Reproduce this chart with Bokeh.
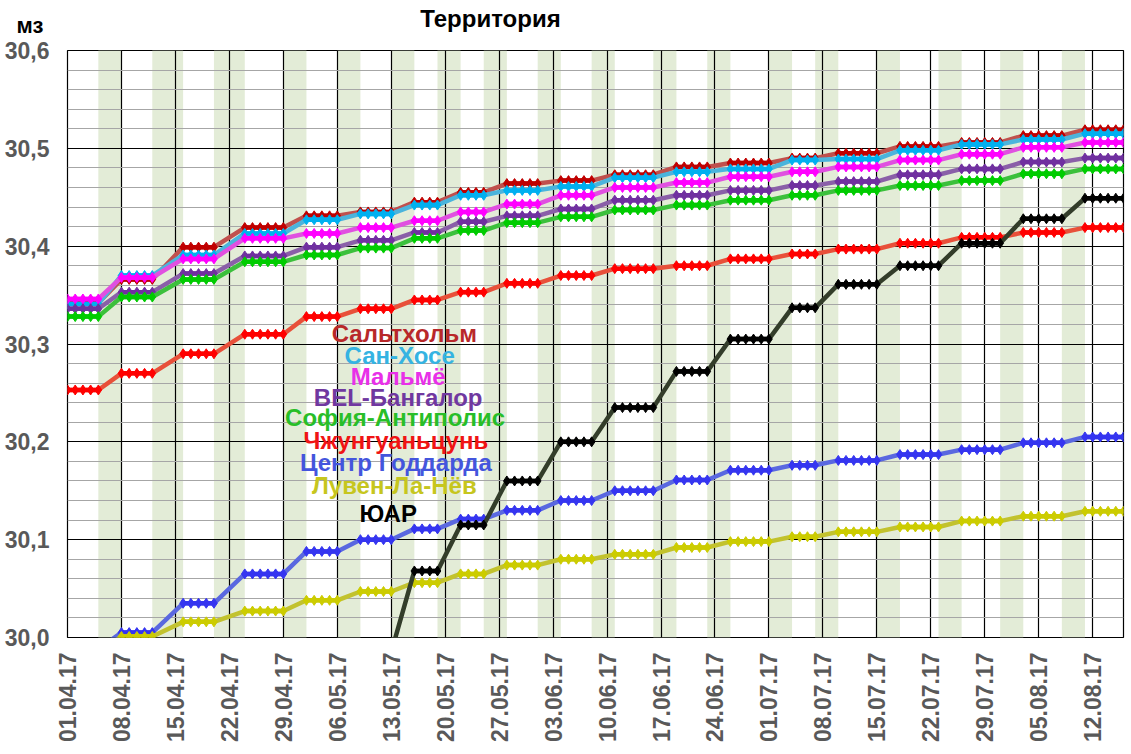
from bokeh.plotting import figure
from bokeh.layouts import column
from bokeh.models import Range1d, FixedTicker, CustomJSTickFormatter, Label
from bokeh.embed import file_html
from bokeh.resources import INLINE
from bokeh.core.properties import value
import math

NAN = float("nan")

# x axis: day index from 01.04.17 (0) to 16.08.17 (137)
X_END = 137
TICK_DAYS = [0, 7, 14, 21, 28, 35, 42, 49, 56, 63, 70, 77, 84, 91, 98, 105, 112, 119, 126, 133]
TICK_LABELS = ["01.04.17", "08.04.17", "15.04.17", "22.04.17", "29.04.17", "06.05.17",
               "13.05.17", "20.05.17", "27.05.17", "03.06.17", "10.06.17", "17.06.17",
               "24.06.17", "01.07.17", "08.07.17", "15.07.17", "22.07.17", "29.07.17",
               "05.08.17", "12.08.17"]
Y_TICKS = [30.0, 30.1, 30.2, 30.3, 30.4, 30.5, 30.6]

# shaded day bands (start day, end day exclusive)
BANDS = [(4, 7), (11, 15), (19, 23), (28, 31), (35, 38), (42, 45), (48, 51), (54, 57),
         (61, 64), (68, 71), (76, 79), (83, 86), (91, 94), (97, 100), (105, 108),
         (113, 116), (121, 124), (129, 132)]

# flat periods (first day, last day) between the bands
FLATS = [(0, 4), (7, 11), (15, 19), (23, 28), (31, 35), (38, 42), (45, 48), (51, 54),
         (57, 61), (64, 68), (71, 76), (79, 83), (86, 91), (94, 97), (100, 105),
         (108, 113), (116, 121), (124, 129), (132, 137)]

SERIES_NAMES = ["Сальтхольм", "Сан-Хосе", "Мальмё", "BEL-Бангалор", "София-Антиполис",
                "Чжунгуаньцунь", "Центр Годдарда", "Лувен-Ла-Нёв", "ЮАР"]

SALTHOLM = [30.342, 30.366, 30.399, 30.419, 30.431, 30.435, 30.445, 30.455, 30.464, 30.467,
            30.473, 30.481, 30.485, 30.490, 30.495, 30.502, 30.506, 30.513, 30.519]
SAN_JOSE = [30.341, 30.370, 30.391, 30.413, 30.427, 30.433, 30.442, 30.452, 30.457, 30.461,
            30.470, 30.476, 30.479, 30.488, 30.489, 30.498, 30.504, 30.509, 30.515]
MALMO = [30.346, 30.368, 30.387, 30.408, 30.413, 30.419, 30.426, 30.435, 30.443, 30.452,
         30.460, 30.465, 30.471, 30.476, 30.481, 30.488, 30.494, 30.501, 30.506]
BANGALORE = [30.336, 30.353, 30.372, 30.390, 30.399, 30.406, 30.414, 30.425, 30.431, 30.438,
             30.447, 30.452, 30.457, 30.462, 30.466, 30.473, 30.479, 30.486, 30.490]
SOPHIA = [30.328, 30.348, 30.366, 30.384, 30.391, 30.398, 30.408, 30.416, 30.424, 30.430,
          30.437, 30.442, 30.447, 30.452, 30.457, 30.462, 30.467, 30.474, 30.479]
ZHONGGUANCUN = [30.253, 30.270, 30.290, 30.310, 30.328, 30.336, 30.345, 30.353, 30.362, 30.370,
                30.377, 30.380, 30.387, 30.392, 30.397, 30.403, 30.409, 30.414, 30.419]
GODDARD = [29.988, 30.005, 30.035, 30.065, 30.088, 30.100, 30.111, 30.121, 30.130, 30.140,
           30.150, 30.161, 30.171, 30.176, 30.181, 30.187, 30.192, 30.199, 30.205]
LOUVAIN = [29.985, 30.001, 30.016, 30.027, 30.038, 30.047, 30.056, 30.065, 30.074, 30.080,
           30.085, 30.092, 30.098, 30.103, 30.108, 30.113, 30.119, 30.124, 30.129]
SOUTH_AFRICA = [NAN, NAN, NAN, NAN, NAN, 29.985, 30.068, 30.115, 30.160, 30.200,
                30.235, 30.272, 30.305, 30.337, 30.361, 30.380, 30.403, 30.428, 30.449]

SERIES = [SALTHOLM, SAN_JOSE, MALMO, BANGALORE, SOPHIA, ZHONGGUANCUN, GODDARD, LOUVAIN,
          SOUTH_AFRICA]

FLAT_COLORS = ["#C00000", "#00B0F0", "#FF00FF", "#7030A0", "#00CC00", "#FF0000", "#3535F0",
               "#CCCC00", "#000000"]
RAMP_COLORS = ["#C0504D", "#4BB4DC", "#E050E0", "#8A5FA8", "#3CC03C", "#E8503A", "#5A68E0",
               "#C2C22E", "#333D2A"]
LABEL_COLORS = ["#B8282A", "#35B3E2", "#E830E8", "#7038A0", "#28BE28", "#F01414", "#4455DD",
                "#C6C61E", "#000000"]

FONT = "Liberation Sans"

# ---- header with unit and title ----
hdr = figure(width=1131, height=38, output_backend="svg", toolbar_location=None,
             x_range=Range1d(0, 1131), y_range=Range1d(38, 0),
             x_axis_type=None, y_axis_type=None, min_border=0)
hdr.frame_align = False
hdr.outline_line_color = None
hdr.background_fill_color = "white"
hdr.border_fill_color = "white"
hdr.text(x=[43], y=[37], text=["мз"], text_align="right", text_baseline="bottom",
         text_font=value(FONT), text_font_style="bold", text_font_size="22px",
         text_color="black")
hdr.text(x=[490], y=[31], text=["Территория"], text_align="center", text_baseline="bottom",
         text_font=value(FONT), text_font_style="bold", text_font_size="24px",
         text_color="black")

# ---- main chart ----
p = figure(width=1131, height=712, output_backend="svg", toolbar_location=None,
           x_range=Range1d(0, X_END), y_range=Range1d(30.0, 30.6),
           min_border_left=67, min_border_right=8, min_border_top=12, min_border_bottom=113)
p.frame_align = False
p.background_fill_color = "white"
p.border_fill_color = "white"
p.outline_line_color = "black"
p.outline_line_width = 1.2

# background bands
for a, b in BANDS:
    r = p.quad(left=a, right=b, bottom=30.0, top=30.6, fill_color="#E3ECD7", line_color=None)
    r.level = "image"

# axes
p.xaxis.ticker = FixedTicker(ticks=TICK_DAYS)
p.xaxis.major_label_overrides = {d: lab for d, lab in zip(TICK_DAYS, TICK_LABELS)}
p.xaxis.major_label_orientation = math.pi / 2
p.xaxis.major_label_standoff = 9
p.yaxis.ticker = FixedTicker(ticks=Y_TICKS)
p.yaxis.formatter = CustomJSTickFormatter(code="return tick.toFixed(1).replace('.', ',');")
p.yaxis.major_label_standoff = 12
for ax in (p.xaxis[0], p.yaxis[0]):
    ax.axis_line_color = None
    ax.major_tick_line_color = None
    ax.minor_tick_line_color = None
    ax.major_label_text_font = FONT
    ax.major_label_text_font_style = "bold"
    ax.major_label_text_font_size = "23px"
    ax.major_label_text_color = "#595959"

# grids
p.xgrid.ticker = FixedTicker(ticks=TICK_DAYS)
p.xgrid.grid_line_color = "black"
p.xgrid.grid_line_width = 1.2
minor = [round(30.0 + 0.02 * i, 2) for i in range(31) if i % 5]
p.ygrid.ticker = FixedTicker(ticks=Y_TICKS, minor_ticks=minor)
p.ygrid.grid_line_color = "black"
p.ygrid.grid_line_width = 1.2
p.ygrid.minor_grid_line_color = "#A6A6A6"
p.ygrid.minor_grid_line_width = 1.2

# series
for levels, fc, rc in zip(SERIES, FLAT_COLORS, RAMP_COLORS):
    xs, ys = [], []
    seg_x, seg_y = [], []
    for (s, e), v in zip(FLATS, levels):
        days = list(range(s, e + 1))
        xs += days
        ys += [v] * len(days)
        if not math.isnan(v):
            seg_x.append([s, e])
            seg_y.append([v, v])
    p.line(xs, ys, line_color=rc, line_width=4.5, line_join="round")
    p.multi_line(seg_x, seg_y, line_color=fc, line_width=4.5, line_join="round")
    p.scatter(xs, ys, marker="diamond", size=10, fill_color=fc, line_color=fc)

# legend texts
LEG_X = [43.7, 43.1, 42.9, 42.9, 42.5, 42.6, 42.6, 42.4, 41.6]
LEG_Y = [30.311, 30.2885, 30.2665, 30.245, 30.225, 30.2015, 30.179, 30.155, 30.127]
for name, c, x, y in zip(SERIES_NAMES, LABEL_COLORS, LEG_X, LEG_Y):
    p.add_layout(Label(x=x, y=y, text=name, text_color=c, text_align="center",
                       text_baseline="middle", text_font=FONT, text_font_style="bold",
                       text_font_size="24px"))

layout = column(hdr, p, spacing=0)
open("out.html", "w").write(file_html(layout, INLINE))
